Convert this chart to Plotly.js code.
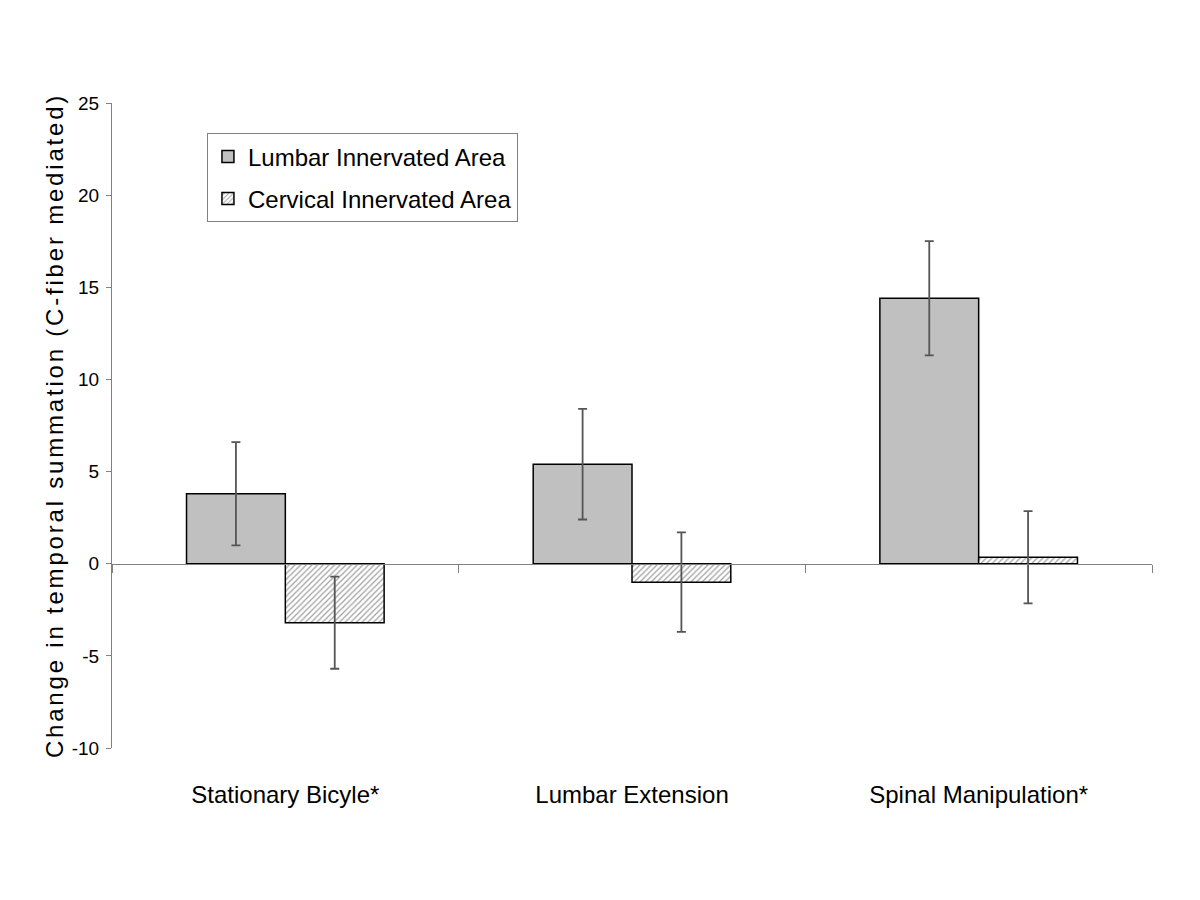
<!DOCTYPE html>
<html>
<head>
<meta charset="utf-8">
<script src="https://cdn.plot.ly/plotly-3.0.1.min.js"></script>
<style>
  body { margin: 0; background: #fff; }
  #grafica { width: 1200px; height: 900px; }
  #grafica .ytitle { letter-spacing: 2.8px; }
</style>
</head>
<body>
<div id="grafica"></div>
<script>
// Categorias y valores
const categorias = ['Stationary Bicyle*', 'Lumbar Extension', 'Spinal Manipulation*'];
const lumbar = [3.8, 5.4, 14.4];
const lumbarErr = [2.8, 3.0, 3.1];
const cervical = [-3.2, -1.0, 0.35];
const cervicalErr = [2.5, 2.7, 2.5];
const ticksY = [-10, -5, 0, 5, 10, 15, 20, 25];

const fuenteNarrow = 'Liberation Sans Narrow, Arial Narrow, Liberation Sans, Arial, sans-serif';

const trazaLumbar = {
    x: categorias,
    y: lumbar,
    name: 'Lumbar Innervated Area',
    legendgroup: 'a',
    type: 'bar',
    marker: { color: '#c0c0c0', line: { color: '#000', width: 1.5 } },
    error_y: { type: 'data', array: lumbarErr, visible: true, color: '#555', thickness: 1.8, width: 4.5 },
    hoverinfo: 'skip'
};

const trazaCervical = {
    x: categorias,
    y: cervical,
    name: 'Cervical Innervated Area',
    legendgroup: 'b',
    type: 'bar',
    marker: {
        color: '#fff',
        line: { color: '#000', width: 1.5 },
        pattern: { shape: '/', fgcolor: '#a0a0a0', bgcolor: '#fff', size: 4, solidity: 0.3 }
    },
    error_y: { type: 'data', array: cervicalErr, visible: true, color: '#555', thickness: 1.8, width: 4.5 },
    hoverinfo: 'skip'
};

// traza vacia para que se dibuje el eje en cero
const trazaEje = {
    x: categorias,
    y: categorias.map(() => null),
    xaxis: 'x2',
    type: 'scatter',
    mode: 'markers',
    showlegend: false,
    hoverinfo: 'skip'
};

const yMin = -10, yMax = 25;

const layout = {
    width: 1200,
    height: 900,
    margin: { l: 112, r: 48, t: 103, b: 152 },
    paper_bgcolor: '#fff',
    plot_bgcolor: '#fff',
    barmode: 'group',
    bargap: 0.43,
    bargroupgap: 0,
    showlegend: true,
    legend: {
        x: 0.0913, y: 0.953, xanchor: 'left', yanchor: 'top',
        bordercolor: '#808080', borderwidth: 1, bgcolor: '#fff',
        font: { family: fuenteNarrow, size: 24, color: '#000' },
        traceorder: 'grouped',
        tracegroupgap: 8
    },
    xaxis: {
        type: 'category',
        showline: false,
        showgrid: false,
        zeroline: false,
        ticks: '',
        ticklabelstandoff: 30,
        tickfont: { family: fuenteNarrow, size: 24, color: '#000' }
    },
    xaxis2: {
        type: 'category',
        overlaying: 'x',
        matches: 'x',
        anchor: 'free',
        position: (0 - yMin) / (yMax - yMin),
        side: 'bottom',
        showline: true,
        linecolor: '#808080',
        linewidth: 1,
        showgrid: false,
        zeroline: false,
        ticks: 'outside',
        tickson: 'boundaries',
        ticklen: 8,
        tickcolor: '#808080',
        showticklabels: false
    },
    yaxis: {
        range: [yMin, yMax],
        tickvals: ticksY,
        ticktext: ticksY.map(String),
        showline: true,
        linecolor: '#808080',
        linewidth: 1,
        showgrid: false,
        zeroline: false,
        ticks: 'outside',
        ticklen: 5,
        tickcolor: '#808080',
        ticklabelstandoff: 3,
        tickfont: { family: fuenteNarrow, size: 19, color: '#000' },
        title: {
            text: 'Change in temporal summation (C-fiber mediated)',
            font: { family: 'Liberation Sans, Arial, sans-serif', size: 24, color: '#000' },
            standoff: 1
        }
    }
};

Plotly.newPlot('grafica', [trazaLumbar, trazaCervical, trazaEje], layout, { staticPlot: true });
</script>
</body>
</html>
